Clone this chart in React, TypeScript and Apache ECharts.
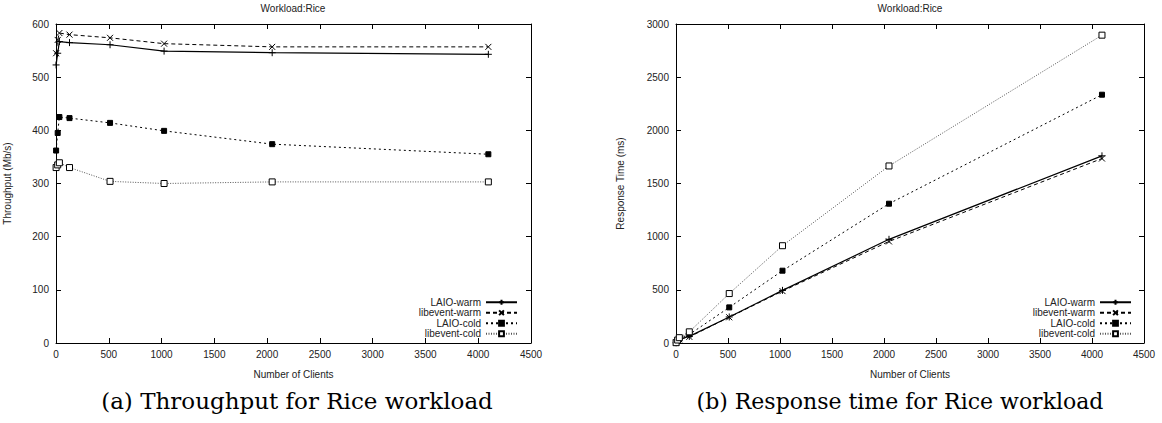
import React, { useEffect, useRef } from "react";
import * as echarts from "echarts";

const clients = [1, 16, 32, 128, 512, 1024, 2048, 4096];

const laioWarmTput = [523, 545, 567, 565, 561, 549, 546, 543];
const libeventWarmTput = [545, 570, 583, 580, 574, 563, 557, 557];
const laioColdTput = [362, 395, 425, 423, 414, 399, 374, 355];
const libeventColdTput = [330, 335, 339, 330, 304, 300, 303, 303];

const laioWarmResp = [2, 20, 35, 62, 245, 495, 975, 1760];
const libeventWarmResp = [2, 20, 35, 58, 242, 488, 955, 1735];
const laioColdResp = [3, 25, 45, 80, 335, 680, 1310, 2335];
const libeventColdResp = [3, 28, 50, 105, 465, 915, 1665, 2895];

const seriesNames = ["LAIO-warm", "libevent-warm", "LAIO-cold", "libevent-cold"];
const xTicksMax = 4500;
const xTickStep = 500;

const SANS = "Liberation Sans, Arial, sans-serif";
const SERIF = "DejaVu Serif, serif";

const PLUS = "path://M5,0L5,10M0,5L10,5";
const CROSS = "path://M0,0L10,10M10,0L0,10";
const STARBOX = "path://M0,0L10,0L10,10L0,10Z";

function styleFor(idx: number) {
  if (idx === 0)
    return {
      symbol: PLUS,
      symbolSize: 7,
      lineStyle: { color: "#000", width: 1.2, type: "solid" as const },
      itemStyle: { color: "#000", borderColor: "#000", borderWidth: 1 },
    };
  if (idx === 1)
    return {
      symbol: CROSS,
      symbolSize: 6,
      lineStyle: { color: "#000", width: 1, type: [4, 3] as any },
      itemStyle: { color: "#000", borderColor: "#000", borderWidth: 1 },
    };
  if (idx === 2)
    return {
      symbol: STARBOX,
      symbolSize: 5,
      lineStyle: { color: "#000", width: 1, type: [2, 3] as any },
      itemStyle: { color: "#000", borderColor: "#000", borderWidth: 1 },
    };
  return {
    symbol: "rect",
    symbolSize: 6,
    lineStyle: { color: "#555", width: 1, type: [1, 1.5] as any },
    itemStyle: { color: "#fff", borderColor: "#000", borderWidth: 1 },
  };
}

function mkSeries(arrs: number[][], xi: number, yi: number) {
  return arrs.map((arr, i) => ({
    type: "line" as const,
    name: seriesNames[i],
    xAxisIndex: xi,
    yAxisIndex: yi,
    showSymbol: true,
    data: clients.map((c, k) => [c, arr[k]]),
    ...styleFor(i),
  }));
}

const tickStyle = { show: true, inside: true, length: 5, lineStyle: { color: "#000", width: 1 } };
const lineAx = { show: true, onZero: false, lineStyle: { color: "#000", width: 1 } };
const labelStyle = { fontSize: 10, color: "#222", fontFamily: SANS, formatter: (v: number) => String(v) };

function xAxes(grid: number) {
  return [
    {
      gridIndex: grid,
      type: "value" as const,
      min: 0,
      max: xTicksMax,
      interval: xTickStep,
      position: "bottom" as const,
      axisLine: lineAx,
      axisTick: tickStyle,
      splitLine: { show: false },
      axisLabel: { ...labelStyle, margin: 6 },
      name: "Number of Clients",
      nameLocation: "middle" as const,
      nameGap: 26,
      nameTextStyle: { fontSize: 10, color: "#222", fontFamily: SANS },
    },
    {
      gridIndex: grid,
      type: "value" as const,
      min: 0,
      max: xTicksMax,
      interval: xTickStep,
      position: "top" as const,
      axisLine: lineAx,
      axisTick: tickStyle,
      splitLine: { show: false },
      axisLabel: { show: false },
    },
  ];
}

function yAxes(grid: number, max: number, step: number, name: string, gap: number) {
  return [
    {
      gridIndex: grid,
      type: "value" as const,
      min: 0,
      max,
      interval: step,
      position: "left" as const,
      axisLine: lineAx,
      axisTick: tickStyle,
      splitLine: { show: false },
      axisLabel: { ...labelStyle, margin: 7 },
      name,
      nameLocation: "middle" as const,
      nameGap: gap,
      nameTextStyle: { fontSize: 10, color: "#222", fontFamily: SANS },
    },
    {
      gridIndex: grid,
      type: "value" as const,
      min: 0,
      max,
      interval: step,
      position: "right" as const,
      axisLine: lineAx,
      axisTick: tickStyle,
      splitLine: { show: false },
      axisLabel: { show: false },
    },
  ];
}

function legendAt(right: number, top: number) {
  return {
    orient: "vertical" as const,
    right,
    top,
    align: "right" as const,
    itemWidth: 31,
    itemHeight: 6,
    itemGap: 0,
    padding: 0,
    data: seriesNames,
    textStyle: { fontSize: 10, color: "#222", fontFamily: SANS, lineHeight: 10.5 },
    selectedMode: false,
  };
}

export default function App() {
  const ref = useRef<HTMLDivElement>(null);
  useEffect(() => {
    document.body.style.margin = "0";
    const chart = echarts.init(ref.current!, undefined, { renderer: "svg" });
    const left = mkSeries([laioWarmTput, libeventWarmTput, laioColdTput, libeventColdTput], 0, 0);
    const right = mkSeries([laioWarmResp, libeventWarmResp, laioColdResp, libeventColdResp], 2, 2);
    chart.setOption({
      animation: false,
      backgroundColor: "#fff",
      grid: [
        { left: 56, top: 24, width: 475, height: 319 },
        { left: 676, top: 24, width: 468, height: 319 },
      ],
      xAxis: [...xAxes(0), ...xAxes(1)],
      yAxis: [
        ...yAxes(0, 600, 100, "Throughput (Mb/s)", 44),
        ...yAxes(1, 3000, 500, "Response Time (ms)", 51),
      ],
      legend: [legendAt(644, 297), legendAt(30, 297)],
      series: [...left, ...right],
      graphic: [
        { type: "text", x: 293, y: 8, style: { text: "Workload:Rice", fontSize: 10, fill: "#222", fontFamily: SANS, textAlign: "center", textVerticalAlign: "middle" } },
        { type: "text", x: 910, y: 8, style: { text: "Workload:Rice", fontSize: 10, fill: "#222", fontFamily: SANS, textAlign: "center", textVerticalAlign: "middle" } },
        { type: "text", x: 297, y: 401, style: { text: "(a) Throughput for Rice workload", fontSize: 23, fill: "#000", fontFamily: SERIF, textAlign: "center", textVerticalAlign: "middle" } },
        { type: "text", x: 900, y: 401, style: { text: "(b) Response time for Rice workload", fontSize: 22, fill: "#000", fontFamily: SERIF, textAlign: "center", textVerticalAlign: "middle" } },
      ],
    });
    return () => chart.dispose();
  }, []);
  return <div ref={ref} style={{ position: "absolute", left: 0, top: 0, width: 1162, height: 423 }} />;
}
